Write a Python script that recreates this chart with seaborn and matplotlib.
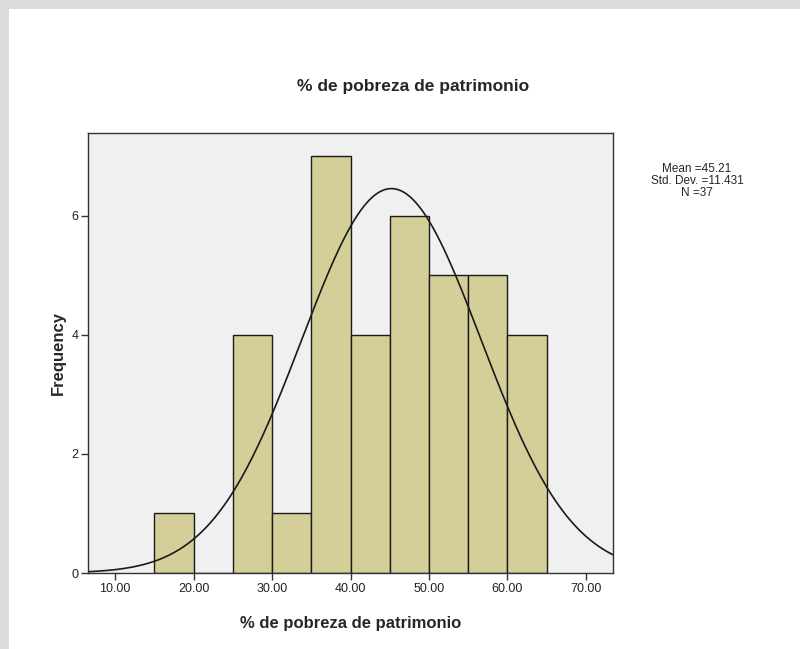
import numpy as np
import pandas as pd
import matplotlib
matplotlib.use("Agg")
import matplotlib.pyplot as plt
import seaborn as sns
from matplotlib.patches import Rectangle

# Data
bin_edges = [15, 20, 25, 30, 35, 40, 45, 50, 55, 60, 65]
bin_counts = [1, 0, 4, 1, 7, 4, 6, 5, 5, 4]
mean_val = 45.21
std_val = 11.431
n_val = 37
x_ticks = [10, 20, 30, 40, 50, 60, 70]
y_ticks = [0, 2, 4, 6]

sns.set_style("white")
plt.rcParams['font.family'] = ['Liberation Sans', 'DejaVu Sans']

fig = plt.figure(figsize=(8.0, 6.49), dpi=100)
fig.patch.set_facecolor('white')

# window chrome (gray borders)
fig.patches.append(Rectangle((0, 1 - 9/649), 1, 9/649, transform=fig.transFigure,
                             facecolor='#DCDCDC', edgecolor='none', zorder=0))
fig.patches.append(Rectangle((0, 0), 9/800, 1, transform=fig.transFigure,
                             facecolor='#DCDCDC', edgecolor='none', zorder=0))

ax = fig.add_axes([88/800, 1 - 573/649, (613 - 88)/800, (573 - 133)/649])
ax.set_facecolor('#F0F0F0')

mids = [(a + b) / 2 for a, b in zip(bin_edges[:-1], bin_edges[1:])]
df = pd.DataFrame({'x': mids, 'w': bin_counts})
sns.histplot(data=df, x='x', weights='w', bins=bin_edges, ax=ax,
             color='#D4CF98', edgecolor='#1a1a1a', linewidth=1.0, alpha=1.0)

# normal curve
xs = np.linspace(6.56, 73.44, 400)
bw = bin_edges[1] - bin_edges[0]
ys = n_val * bw / (std_val * np.sqrt(2 * np.pi)) * np.exp(-0.5 * ((xs - mean_val) / std_val) ** 2)
sns.lineplot(x=xs, y=ys, ax=ax, color='#1a1a1a', linewidth=1.2)

ax.set_xlim(6.56, 73.44)
ax.set_ylim(0, 7.39)
ax.set_xticks(x_ticks)
ax.set_xticklabels([f"{t:.2f}" for t in x_ticks], fontsize=9, color='#222222')
ax.set_yticks(y_ticks)
ax.set_yticklabels([str(t) for t in y_ticks], fontsize=9, color='#222222')
ax.tick_params(axis='both', direction='out', length=5, width=1, color='#333333', pad=2,
               bottom=True, left=True)
for s in ax.spines.values():
    s.set_color('#333333')
    s.set_linewidth(1.0)

ax.set_xlabel('% de pobreza de patrimonio', fontsize=12, fontweight='bold', labelpad=15)
ax.set_ylabel('Frequency', fontsize=12, fontweight='bold', labelpad=4)

fig.text(413/800, 1 - 86/649, '% de pobreza de patrimonio', ha='center', va='center',
         fontsize=12.5, fontweight='bold')
fig.text(697/800, 1 - 181/649, f'Mean ={mean_val:.2f}\nStd. Dev. ={std_val:.3f}\nN ={n_val}',
         ha='center', va='center', fontsize=8.5, linespacing=0.95)

fig.savefig('out.png', dpi=100)
